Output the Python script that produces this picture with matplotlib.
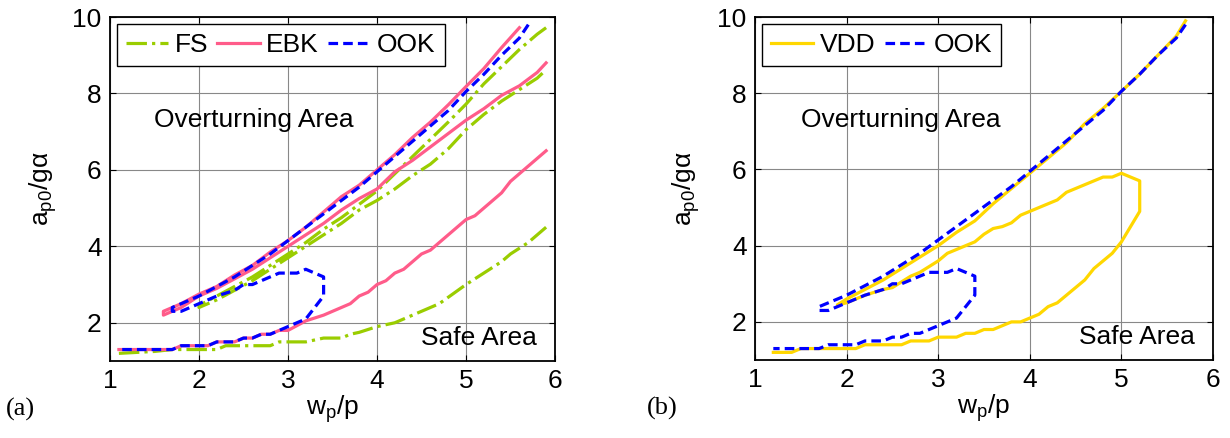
import matplotlib
matplotlib.use("Agg")
import matplotlib.pyplot as plt

plt.rcParams['font.family'] = ['Liberation Sans', 'DejaVu Sans']
plt.rcParams['mathtext.fontset'] = 'custom'
plt.rcParams['mathtext.rm'] = 'Liberation Sans'
plt.rcParams['mathtext.it'] = 'Liberation Sans'

# OOK boundary (same in both panels), traced from the upper-right end
ook_x = [5.7, 5.6, 5.4, 5.2, 5.0, 4.8, 4.6, 4.4, 4.2, 4.0, 3.8, 3.6, 3.4, 3.2, 3.0, 2.8, 2.6, 2.4, 2.2,
         2.0, 1.9, 1.8, 1.7, 1.7, 1.8, 2.0, 2.2, 2.4, 2.5, 2.6, 2.7, 2.8, 2.9, 3.0, 3.1, 3.2, 3.4,
         3.4, 3.3, 3.2, 3.1, 3.0, 2.9, 2.8, 2.7, 2.6, 2.5, 2.4, 2.2, 2.1, 1.8, 1.7, 1.1]
ook_y = [9.8, 9.45, 9.0, 8.5, 8.05, 7.55, 7.15, 6.75, 6.35, 5.95, 5.55, 5.2, 4.85, 4.5, 4.15, 3.8, 3.5, 3.2, 2.95,
         2.7, 2.6, 2.5, 2.4, 2.3, 2.3, 2.5, 2.7, 2.85, 3.0, 3.0, 3.1, 3.2, 3.3, 3.3, 3.3, 3.4, 3.2,
         2.7, 2.4, 2.1, 2.0, 1.9, 1.8, 1.7, 1.7, 1.6, 1.6, 1.5, 1.5, 1.4, 1.4, 1.3, 1.3]
ook_start_b = 1.2

# EBK: upper closed tip, lower branch
ebk_up_x = [5.6, 5.4, 5.2, 5.0, 4.8, 4.6, 4.4, 4.2, 4.0, 3.8, 3.6, 3.4, 3.2, 3.0, 2.8, 2.6, 2.4, 2.2, 2.0, 1.8, 1.6,
            1.6, 1.8, 2.0, 2.2, 2.4, 2.6, 2.8, 3.0, 3.2, 3.4, 3.6, 3.8, 4.0, 4.2, 4.4, 4.6, 4.8, 5.0, 5.2, 5.4, 5.6, 5.8, 5.9]
ebk_up_y = [9.72, 9.2, 8.65, 8.18, 7.7, 7.25, 6.85, 6.4, 6.0, 5.6, 5.3, 4.9, 4.5, 4.15, 3.85, 3.5, 3.25, 2.95, 2.75, 2.5, 2.3,
            2.2, 2.4, 2.7, 2.9, 3.15, 3.4, 3.7, 4.0, 4.3, 4.6, 4.95, 5.25, 5.5, 5.95, 6.25, 6.6, 6.95, 7.3, 7.6, 7.95, 8.2, 8.55, 8.8]
ebk_lo_x = [1.1, 1.7, 1.8, 2.1, 2.2, 2.4, 2.5, 2.6, 2.7, 2.8, 2.9, 3.0, 3.2, 3.4, 3.6, 3.7, 3.8, 3.9, 4.0, 4.1, 4.2,
            4.3, 4.4, 4.5, 4.6, 4.7, 4.8, 4.9, 5.0, 5.1, 5.2, 5.3, 5.4, 5.5, 5.6, 5.7, 5.8, 5.9]
ebk_lo_y = [1.3, 1.3, 1.4, 1.4, 1.5, 1.5, 1.6, 1.6, 1.7, 1.7, 1.8, 1.8, 2.05, 2.2, 2.4, 2.5, 2.7, 2.8, 3.0, 3.1, 3.3,
            3.4, 3.6, 3.8, 3.9, 4.1, 4.3, 4.5, 4.7, 4.8, 5.0, 5.2, 5.4, 5.7, 5.9, 6.1, 6.3, 6.5]

# FS: upper closed tip, lower branch
fs_up_x = [5.9, 5.8, 5.6, 5.4, 5.2, 5.0, 4.8, 4.6, 4.4, 4.2, 4.0, 3.8, 3.6, 3.4, 3.2, 3.0, 2.8, 2.6, 2.4, 2.2, 2.0,
           2.0, 2.2, 2.4, 2.6, 2.8, 3.0, 3.2, 3.4, 3.6, 3.8, 4.0, 4.2, 4.4, 4.6, 4.8, 5.0, 5.2, 5.4, 5.6, 5.8, 5.9]
fs_up_y = [9.72, 9.55, 9.15, 8.7, 8.25, 7.72, 7.25, 6.8, 6.35, 5.9, 5.45, 5.1, 4.75, 4.45, 4.1, 3.8, 3.5, 3.2, 2.95, 2.7, 2.45,
           2.4, 2.6, 2.85, 3.1, 3.4, 3.7, 4.0, 4.3, 4.6, 4.95, 5.2, 5.5, 5.85, 6.15, 6.55, 7.05, 7.45, 7.8, 8.1, 8.4, 8.62]
fs_lo_x = [1.1, 1.5, 1.7, 2.2, 2.3, 2.8, 2.9, 3.2, 3.4, 3.6, 3.7, 3.8, 4.0, 4.2, 4.4, 4.7, 5.0, 5.2, 5.4, 5.5, 5.7, 5.9]
fs_lo_y = [1.2, 1.25, 1.3, 1.3, 1.4, 1.4, 1.5, 1.5, 1.6, 1.6, 1.7, 1.75, 1.9, 2.0, 2.2, 2.5, 3.0, 3.3, 3.6, 3.8, 4.1, 4.5]

# VDD boundary, traced from the upper-right end
vdd_x = [5.7, 5.6, 5.4, 5.2, 5.0, 4.8, 4.6, 4.4, 4.2, 4.0, 3.8, 3.6, 3.4, 3.2, 3.0, 2.8, 2.6, 2.4, 2.2, 2.0, 1.9,
         2.0, 2.2, 2.4, 2.5, 2.6, 2.7, 2.8, 2.9, 3.0, 3.1, 3.2, 3.4, 3.5, 3.6, 3.7, 3.8, 3.9, 4.0, 4.1, 4.2, 4.3,
         4.4, 4.5, 4.6, 4.7, 4.8, 4.9, 5.0, 5.2, 5.2, 5.1, 5.0, 4.9, 4.8, 4.7, 4.6, 4.5, 4.4, 4.3, 4.2, 4.1, 4.0,
         3.9, 3.8, 3.7, 3.6, 3.5, 3.4, 3.3, 3.2, 3.0, 2.9, 2.7, 2.6, 2.2, 2.1, 1.5, 1.4, 1.2]
vdd_y = [9.9, 9.5, 9.0, 8.5, 8.05, 7.6, 7.2, 6.7, 6.3, 5.9, 5.5, 5.1, 4.65, 4.35, 4.0, 3.7, 3.4, 3.1, 2.85, 2.6, 2.45,
         2.5, 2.7, 2.85, 2.9, 3.05, 3.2, 3.3, 3.45, 3.6, 3.8, 3.9, 4.1, 4.3, 4.45, 4.5, 4.6, 4.8, 4.9, 5.0, 5.1, 5.2,
         5.4, 5.5, 5.6, 5.7, 5.8, 5.8, 5.9, 5.7, 4.9, 4.5, 4.1, 3.8, 3.6, 3.4, 3.1, 2.9, 2.7, 2.5, 2.4, 2.2, 2.1,
         2.0, 2.0, 1.9, 1.8, 1.8, 1.7, 1.7, 1.6, 1.6, 1.5, 1.5, 1.4, 1.4, 1.3, 1.3, 1.2, 1.2]

c_fs = '#9acd00'
c_ebk = '#ff5c8a'
c_ook = '#0000ff'
c_vdd = '#ffd700'
lw = 2.3
fs = 19

fig = plt.figure(figsize=(12.3, 4.38), dpi=100)
ax1 = fig.add_axes([110 / 1230, 77 / 438, 445 / 1230, 344 / 438])
ax2 = fig.add_axes([755 / 1230, 78 / 438, 458 / 1230, 343 / 438])

# (a)
ax1.plot(fs_up_x, fs_up_y, '-.', color=c_fs, lw=lw, label='FS')
ax1.plot(fs_lo_x, fs_lo_y, '-.', color=c_fs, lw=lw)
ax1.plot(ebk_up_x, ebk_up_y, '-', color=c_ebk, lw=lw, label='EBK')
ax1.plot(ebk_lo_x, ebk_lo_y, '-', color=c_ebk, lw=lw)
ax1.plot(ook_x, ook_y, '--', color=c_ook, lw=lw, label='OOK', dashes=(3, 1.6))

# (b)
ax2.plot(vdd_x, vdd_y, '-', color=c_vdd, lw=lw, label='VDD')
ax2.plot(ook_x[:-1] + [ook_start_b], ook_y, '--', color=c_ook, lw=lw, label='OOK', dashes=(3, 1.6))

for ax, tag in [(ax1, '(a)'), (ax2, '(b)')]:
    ax.set_xlim(1, 6)
    ax.set_ylim(1, 10)
    ax.set_xticks([1, 2, 3, 4, 5, 6])
    ax.set_yticks([2, 4, 6, 8, 10])
    ax.grid(True, color='#888888', lw=0.8)
    ax.tick_params(direction='in', top=True, right=True, labelsize=fs, length=4, pad=6)
    for s in ax.spines.values():
        s.set_linewidth(1.3)
    ax.set_xlabel(r'$\mathregular{w_p/p}$', fontsize=fs, labelpad=0)
    ax.set_ylabel(r'$\mathregular{a_{p0}/g\alpha}$', fontsize=fs)
    ax.yaxis.set_label_coords(-0.115, 0.5)
    ax.text(1.5, 7.3, 'Overturning Area', fontsize=fs, va='center')
    ax.text(5.8, 1.6, 'Safe Area', fontsize=fs, va='center', ha='right')
    ax.text(-0.235, -0.14, tag, transform=ax.transAxes, fontsize=fs,
            family='Liberation Serif', va='center')
    leg = ax.legend(loc='upper left', ncol=3, fontsize=fs, fancybox=False,
                    edgecolor='black', framealpha=1, borderpad=0.35, columnspacing=0.35,
                    handletextpad=0.25, handlelength=1.6, borderaxespad=0.25)
    leg.get_frame().set_linewidth(1.0)

fig.savefig('out.png', dpi=100)
